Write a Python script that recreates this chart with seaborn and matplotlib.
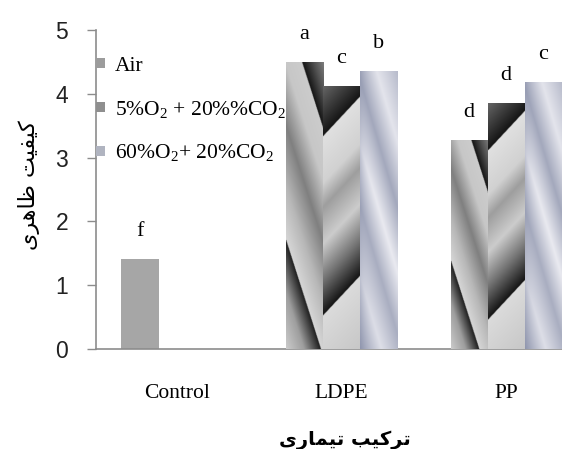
import numpy as np
import pandas as pd
import matplotlib
matplotlib.use("Agg")
import matplotlib.pyplot as plt
import matplotlib.patches as mpatches
import seaborn as sns

# ---------------- data ----------------
groups = ["Control", "LDPE", "PP"]
gases = ["Air", "5%O$_2$ + 20%%CO$_2$", "60%O$_2$+ 20%CO$_2$"]
bar_group = ["Control", "LDPE", "PP", "LDPE", "PP", "LDPE", "PP"]
bar_gas = [gases[0], gases[0], gases[0], gases[1], gases[1], gases[2], gases[2]]
bar_value = [1.41, 4.50, 3.28, 4.12, 3.85, 4.36, 4.18]
letters_air = ["f", "a", "d"]
letters_5 = ["c", "d"]
letters_60 = ["b", "c"]
y_ticks = [0, 1, 2, 3, 4, 5]
# Persian labels (Arabic presentation forms, visual order)
y_label = "\uFBFC\uFEAE\uFEEB\uFE8E\uFEC7 \uFE96\uFBFF\uFED4\uFBFF\uFB90"   # کیفیت ظاهری
x_label = "\uFBFC\uFEAD\uFE8E\uFEE4\uFBFF\uFE97 \uFE90\uFBFF\uFB90\uFEAE\uFE97"  # ترکیب تیماری

df = pd.DataFrame({"group": bar_group, "gas": bar_gas, "value": bar_value})

plt.rcParams["mathtext.fontset"] = "custom"
plt.rcParams["mathtext.rm"] = "Liberation Serif"
plt.rcParams["mathtext.it"] = "Liberation Serif:italic"
plt.rcParams["mathtext.bf"] = "Liberation Serif:bold"

fig = plt.figure(figsize=(5.62, 4.49), dpi=100)
ax = fig.add_axes([96 / 562, 1 - 349 / 449, 1 - 96 / 562, (349 - 30) / 449])

palette = {gases[0]: "#a6a6a6", gases[1]: "#8c8c8c", gases[2]: "#a8adbb"}
sns.barplot(data=df, x="group", y="value", hue="gas", order=groups,
            hue_order=gases, palette=palette, saturation=1, width=0.675,
            errorbar=None, linewidth=0, ax=ax, legend=False)

XL = (-0.4924, 2.340)
YL = (0, 5)
ax.set_xlim(*XL)
ax.set_ylim(*YL)

px_x = 164.5
px_y = 63.8


def prof_air(t):
    e = 1e-3
    xp = [0, 0.14, 0.27 - e, 0.27, 0.40, 0.55, 0.70, 0.83 - e, 0.83, 0.92, 1.0]
    fp = [0.80, 0.62, 0.12, 0.84, 0.72, 0.50, 0.78, 0.80, 0.08, 0.32, 0.50]
    return np.interp(t, xp, fp)


def prof_5(t):
    e = 1e-3
    xp = [0, 0.245 - e, 0.245, 0.36, 0.48, 0.60, 0.68, 0.835 - e, 0.835, 1.0]
    fp = [0.78, 0.86, 0.08, 0.45, 0.80, 0.62, 0.82, 0.88, 0.08, 0.40]
    return np.interp(t, xp, fp)


def prof_60(t):
    xp = [0, 0.18, 0.35, 0.50, 0.66, 0.82, 1.0]
    fp = [0.25, 0.85, 0.40, 0.95, 0.35, 0.90, 0.50]
    return np.interp(t, xp, fp)


def texture(kind, wpx, hpx):
    nx = max(int(wpx * 2), 2)
    ny = max(int(hpx * 2), 2)
    u = (np.arange(nx) + 0.5) / nx * wpx
    v = (ny - np.arange(ny) - 0.5) / ny * hpx
    U, V = np.meshgrid(u, v)
    if kind == 0:
        t = (U + V / 3.2) / (wpx + hpx / 3.2)
        g = prof_air(t)
        img = np.dstack([g, g, g])
    elif kind == 1:
        s = V - U * 1.1
        smin, smax = -wpx * 1.1, hpx
        t = (s - smin) / (smax - smin)
        g = prof_5(t)
        img = np.dstack([g, g, g])
    else:
        t = (U + V / 3.5) / (wpx + hpx / 3.5)
        g = prof_60(t)
        edge = 1 - 0.35 * np.exp(-U / 5.0)
        g = g * edge
        dark = np.array([0.48, 0.51, 0.62])
        light = np.array([0.94, 0.94, 0.96])
        img = dark[None, None, :] + g[..., None] * (light - dark)[None, None, :]
    return np.clip(img, 0, 1)


letter_sets = [letters_air, letters_5, letters_60]
for k, cont in enumerate(ax.containers):
    for j, patch in enumerate(cont.patches):
        x0 = patch.get_x()
        w = patch.get_width()
        h = patch.get_height()
        if k == 0 and j == 0:
            continue  # Control bar: flat gray
        img = texture(k, w * px_x, h * px_y)
        im = ax.imshow(img, extent=[x0, x0 + w, 0, h], aspect="auto",
                       origin="upper", interpolation="bilinear", zorder=3)
        im.set_clip_path(patch)
    ax.bar_label(cont, labels=letter_sets[k], padding=13,
                 fontsize=16, family="Liberation Serif", zorder=5)

ax.set_xlim(*XL)
ax.set_ylim(*YL)
ax.set_yticks(y_ticks)
ax.set_yticklabels([str(v) for v in y_ticks],
                   family=["Liberation Sans", "DejaVu Sans"],
                   fontsize=16.5)
ax.set_xticks(range(len(groups)))
ax.set_xticklabels(groups, family="Liberation Serif", fontsize=15.5)

for side in ["top", "right"]:
    ax.spines[side].set_visible(False)
for side in ["left", "bottom"]:
    ax.spines[side].set_color("#8c8c8c")
    ax.spines[side].set_linewidth(1.2)

ax.tick_params(axis="y", length=6.5, width=1, color="#8c8c8c", pad=13.5,
               labelcolor="#222222")
ax.tick_params(axis="x", length=0, pad=25)

ax.set_ylabel(y_label, family="DejaVu Sans", fontsize=16)
ax.yaxis.set_label_coords(-0.12, 0.514)
ax.set_xlabel(x_label, family="DejaVu Sans", fontsize=14, fontweight="bold")
ax.xaxis.label.set_va("center")
ax.xaxis.set_label_coords(0.534, -0.285)

leg_colors = ["#9c9c9c", "#8f8f8f", "#b0b4c0"]
handles = [mpatches.Patch(facecolor=c, edgecolor="none") for c in leg_colors]
ax.legend(handles=handles, labels=gases, loc="upper left",
          bbox_to_anchor=(0.0, 0.915), frameon=False,
          prop={"family": "Liberation Serif", "size": 15.5},
          handlelength=0.42, handleheight=0.35, handletextpad=0.45,
          labelspacing=1.05, borderaxespad=0, borderpad=0)

fig.savefig("out.png", dpi=100)
